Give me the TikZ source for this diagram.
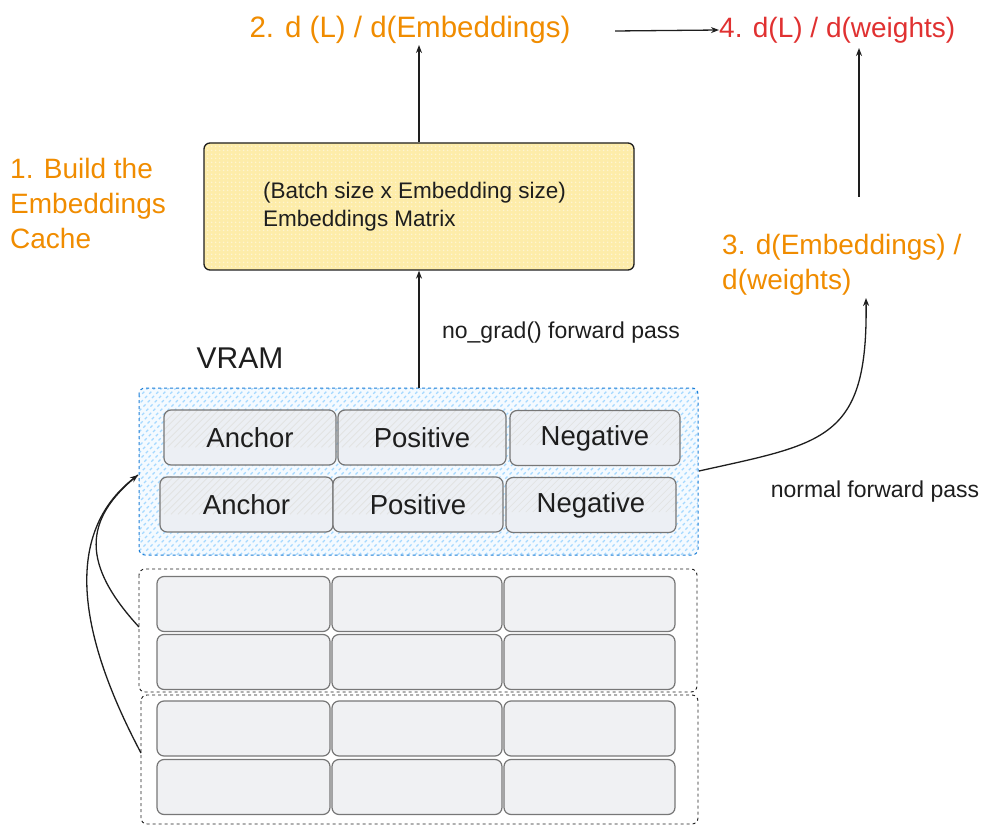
\documentclass[tikz,border=0pt]{standalone}
\usepackage{fontspec}
\setmainfont{Liberation Sans}
\usetikzlibrary{arrows.meta,patterns.meta}
\definecolor{orng}{HTML}{F08C00}
\definecolor{rd}{HTML}{E03131}
\definecolor{ink}{HTML}{1E1E1E}
\definecolor{blueb}{HTML}{1C7ED6}
\definecolor{blueh}{HTML}{A5D8FF}
\definecolor{ylw}{HTML}{FCE68C}
\definecolor{cellf}{HTML}{F0F1F3}
\definecolor{cellb}{HTML}{777777}
\begin{document}
\begin{tikzpicture}[x=1pt,y=-1pt,
  arr/.style={draw=ink, line width=1.3pt, -{Stealth[length=8pt,width=6pt]}},
  hatchlines/.style 2 args={path picture={
     \foreach \i in {-200,-193,...,600}{
       \draw[#1, line width=#2, shift={(path picture bounding box.south west)}] (\i,0) -- ++(220,-220);}}},
  cell/.style={draw=cellb, line width=1.2pt, rounded corners=7pt, fill=cellf, inner sep=0pt, text=ink, font=\fontsize{27.5}{30}\selectfont},
  vcell/.style={cell, fill=cellf!94!blueh, hatchlines={gray!22}{0.8pt}},
  grp/.style={draw=ink, dashed, line width=0.9pt, rounded corners=6pt},
  lbl/.style={inner sep=0pt, text=ink, font=\fontsize{23}{26}\selectfont},
  steplbl/.style={inner sep=0pt, font=\fontsize{28}{35}\selectfont, align=left}]
\useasboundingbox (0,0) rectangle (982,826);
% VRAM container
\path[draw=blueb, dashed, line width=1pt, rounded corners=6pt, fill=blueh!12, hatchlines={blueh}{1.3pt}]
  (139,388) rectangle (698,555);
\coordinate (vramN) at (419,388);
\coordinate (vramW) at (138,475);
\coordinate (vramE) at (699,471);
% grey containers
\draw[grp] (139,569) rectangle (697,692);
\coordinate (g1W) at (139,627);
\draw[grp] (141,695) rectangle (698,824);
\coordinate (g2W) at (141,753);
% VRAM cells
\node[vcell, minimum width=172pt, minimum height=55pt] (a1) at (250,437.5) {Anchor};
\node[vcell, minimum width=168pt, minimum height=55pt] (p1) at (422,437.5) {Positive};
\node[vcell, minimum width=170pt, minimum height=55pt] (n1) at (595,438) {Negative};
\node[vcell, minimum width=173pt, minimum height=55pt] (a2) at (246.5,504.5) {Anchor};
\node[vcell, minimum width=170pt, minimum height=55pt] (p2) at (418,504.5) {Positive};
\node[vcell, minimum width=170pt, minimum height=55pt] (n2) at (591,505) {Negative};
% grey cells
\foreach \r/\yy in {1/604,2/662,3/728.5,4/787}{
  \node[cell, minimum width=173pt, minimum height=55pt] (ga\r) at (243.5,\yy) {};
  \node[cell, minimum width=170pt, minimum height=55pt] (gb\r) at (417,\yy) {};
  \node[cell, minimum width=171pt, minimum height=55pt] (gc\r) at (589.5,\yy) {};
}
% embeddings box
\node[draw=ink, line width=1.3pt, rounded corners=6pt, minimum width=430pt, minimum height=127pt, inner sep=0pt,
  preaction={fill=ylw!75!white}, pattern={Dots[distance=4pt,radius=1pt]}, pattern color=white!60!ylw] (box) at (419,206.5) {};
\node[lbl, anchor=west, align=left, font=\fontsize{22.5}{28}\selectfont] (boxtxt) at (263,207) {(Batch size x Embedding size)\\Embeddings Matrix};
% texts
\node[steplbl, text=orng, font=\fontsize{29.5}{35}\selectfont] (t2) at (410,30) {2. d (L) / d(Embeddings)};
\node[steplbl, text=rd, anchor=west] (t4) at (719,30) {4. d(L) / d(weights)};
\node[steplbl, text=orng, anchor=west] (t1) at (10,203) {1. Build the\\Embeddings\\Cache};
\node[steplbl, text=orng, anchor=west] (t3) at (722,265) {3. d(Embeddings) /\\d(weights)};
\node[inner sep=0pt, text=ink, font=\fontsize{30}{34}\selectfont] (vramlbl) at (240,358) {VRAM};
\node[lbl] (nograd) at (561,333) {no\_grad() forward pass};
\node[lbl] (normal) at (875,492) {normal forward pass};
% arrows
\draw[arr] (vramN) -- (box.south);
\draw[arr] (box.north) -- (419,45);
\coordinate (t2e) at (615,31);
\draw[arr] (t2e) -- (t4.west);
\coordinate (c3) at (859,197);
\draw[arr] (c3) -- (859,48);
\coordinate (c3b) at (866,298);
\draw[arr] (vramE) .. controls (825,443) and (868,440) .. (c3b);
\draw[draw=ink, line width=1.3pt] (g1W) .. controls (82,565) and (82,520) .. (vramW);
\draw[arr] (g2W) .. controls (60,600) and (80,520) .. (vramW);
\end{tikzpicture}
\end{document}
